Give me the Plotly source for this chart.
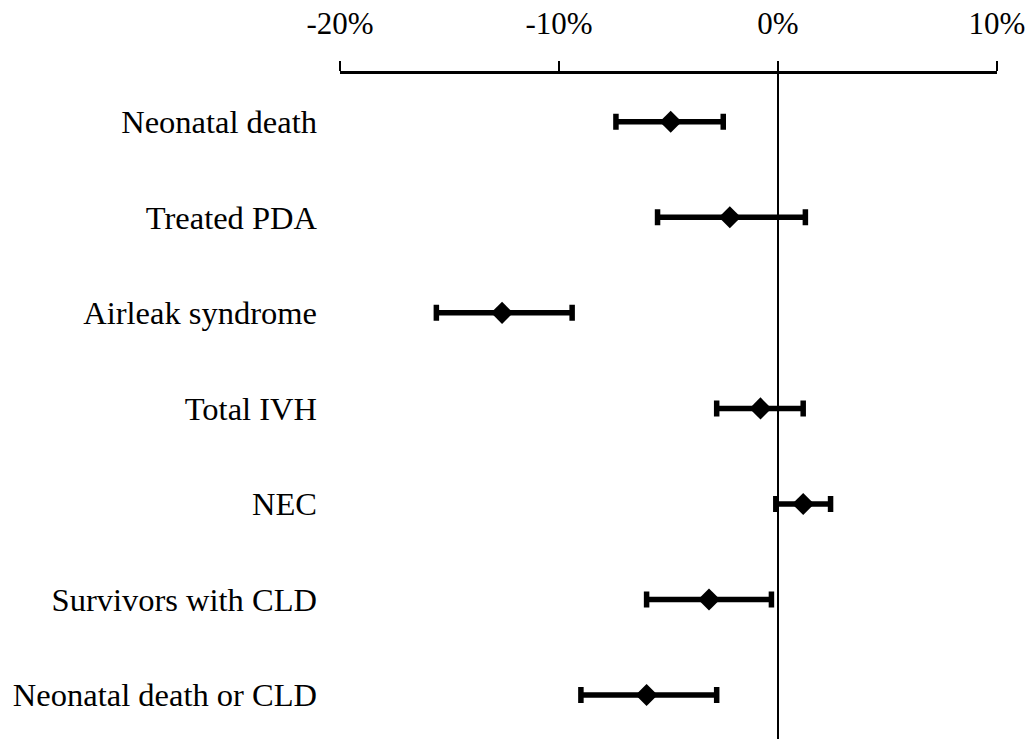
import plotly.graph_objects as go

# Outcomes, top to bottom
outcomes = [
    "Neonatal death",
    "Treated PDA",
    "Airleak syndrome",
    "Total IVH",
    "NEC",
    "Survivors with CLD",
    "Neonatal death or CLD",
]
# Risk difference (%) with 95% confidence limits
estimate = [-4.9, -2.2, -12.6, -0.8, 1.15, -3.15, -6.0]
lower = [-7.4, -5.5, -15.6, -2.8, -0.1, -6.0, -9.0]
upper = [-2.5, 1.25, -9.4, 1.15, 2.4, -0.3, -2.8]

x_tickvals = [-20, -10, 0, 10]
x_ticktext = ["-20%", "-10%", "0%", "10%"]

rows = list(range(len(outcomes)))
err_plus = [u - e for u, e in zip(upper, estimate)]
err_minus = [e - l for e, l in zip(estimate, lower)]

fig = go.Figure()
fig.add_trace(
    go.Scatter(
        x=estimate,
        y=rows,
        mode="markers",
        marker=dict(symbol="diamond", size=17, color="black"),
        error_x=dict(
            type="data",
            symmetric=False,
            array=err_plus,
            arrayminus=err_minus,
            color="black",
            thickness=5.5,
            width=8,
        ),
        showlegend=False,
        hoverinfo="skip",
    )
)

serif = "Liberation Serif, Times New Roman, serif"

fig.update_layout(
    width=1031,
    height=739,
    margin=dict(l=340, r=34, t=74, b=0),
    paper_bgcolor="white",
    plot_bgcolor="white",
    font=dict(family=serif, color="black"),
    xaxis=dict(
        side="top",
        range=[-20, 10],
        tickvals=x_tickvals,
        ticktext=x_ticktext,
        tickfont=dict(family=serif, size=31, color="black"),
        ticks="outside",
        ticklen=10,
        tickwidth=2,
        tickcolor="black",
        showline=True,
        linewidth=2.5,
        linecolor="black",
        showgrid=False,
        zeroline=True,
        zerolinecolor="black",
        zerolinewidth=2,
        ticklabelstandoff=15,
        fixedrange=True,
    ),
    yaxis=dict(
        range=[6.46, -0.5],
        tickvals=rows,
        ticktext=outcomes,
        tickfont=dict(family=serif, size=32.5, color="black"),
        showline=False,
        showgrid=False,
        zeroline=False,
        ticks="",
        ticklabelstandoff=22,
        fixedrange=True,
    ),
)

fig.write_html("out.html")
